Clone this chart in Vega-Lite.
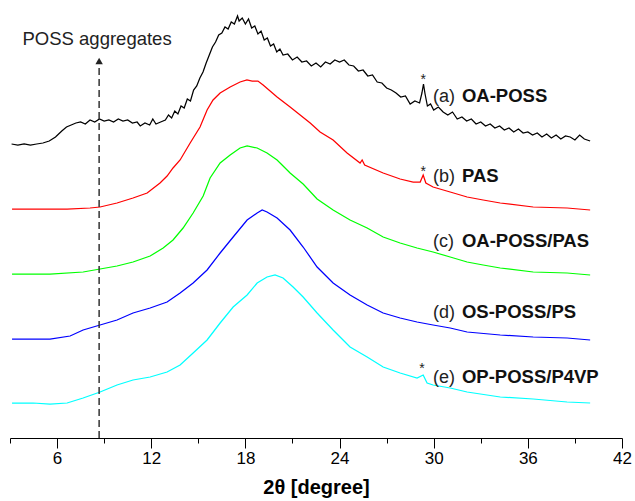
{
  "$schema": "https://vega.github.io/schema/vega-lite/v6.json",
  "width": 612,
  "height": 438,
  "autosize": {"type": "none"},
  "padding": {"left": 10, "top": 0, "right": 13, "bottom": 63},
  "background": "white",
  "config": {"font": "Liberation Sans", "view": {"stroke": null}},
  "datasets": {
    "curves": [
      {"s":"a","x":3.1,"y":294},{"s":"a","x":3.5,"y":293},{"s":"a","x":3.9,"y":294},{"s":"a","x":4.3,"y":293},{"s":"a","x":4.7,"y":294},{"s":"a","x":5.1,"y":295},{"s":"a","x":5.5,"y":297},{"s":"a","x":5.9,"y":301},{"s":"a","x":6.3,"y":307},{"s":"a","x":6.6,"y":311},{"s":"a","x":6.9,"y":313},{"s":"a","x":7.2,"y":315},{"s":"a","x":7.5,"y":316},{"s":"a","x":7.8,"y":314},{"s":"a","x":8.1,"y":318},{"s":"a","x":8.4,"y":316},{"s":"a","x":8.7,"y":319},{"s":"a","x":9.0,"y":317},{"s":"a","x":9.3,"y":318},{"s":"a","x":9.6,"y":316},{"s":"a","x":9.9,"y":319},{"s":"a","x":10.2,"y":317},{"s":"a","x":10.5,"y":318},{"s":"a","x":10.8,"y":315},{"s":"a","x":11.1,"y":316},{"s":"a","x":11.3,"y":312},{"s":"a","x":11.6,"y":315},{"s":"a","x":11.9,"y":313},{"s":"a","x":12.1,"y":319},{"s":"a","x":12.3,"y":314},{"s":"a","x":12.6,"y":316},{"s":"a","x":12.9,"y":318},{"s":"a","x":13.1,"y":323},{"s":"a","x":13.3,"y":320},{"s":"a","x":13.5,"y":327},{"s":"a","x":13.7,"y":324},{"s":"a","x":13.9,"y":332},{"s":"a","x":14.1,"y":330},{"s":"a","x":14.3,"y":339},{"s":"a","x":14.5,"y":337},{"s":"a","x":14.7,"y":348},{"s":"a","x":14.9,"y":352},{"s":"a","x":15.1,"y":360},{"s":"a","x":15.3,"y":366},{"s":"a","x":15.5,"y":375},{"s":"a","x":15.7,"y":383},{"s":"a","x":15.9,"y":391},{"s":"a","x":16.1,"y":396},{"s":"a","x":16.3,"y":403},{"s":"a","x":16.5,"y":405},{"s":"a","x":16.7,"y":411},{"s":"a","x":16.9,"y":409},{"s":"a","x":17.1,"y":416},{"s":"a","x":17.3,"y":414},{"s":"a","x":17.5,"y":422},{"s":"a","x":17.6,"y":417},{"s":"a","x":17.8,"y":420},{"s":"a","x":18.0,"y":414},{"s":"a","x":18.2,"y":419},{"s":"a","x":18.4,"y":410},{"s":"a","x":18.6,"y":412},{"s":"a","x":18.8,"y":404},{"s":"a","x":19.0,"y":407},{"s":"a","x":19.2,"y":398},{"s":"a","x":19.4,"y":400},{"s":"a","x":19.6,"y":392},{"s":"a","x":19.8,"y":394},{"s":"a","x":20.0,"y":386},{"s":"a","x":20.2,"y":389},{"s":"a","x":20.4,"y":383},{"s":"a","x":20.7,"y":384},{"s":"a","x":21.0,"y":378},{"s":"a","x":21.3,"y":381},{"s":"a","x":21.6,"y":376},{"s":"a","x":21.9,"y":377},{"s":"a","x":22.2,"y":372},{"s":"a","x":22.5,"y":375},{"s":"a","x":22.8,"y":371},{"s":"a","x":23.1,"y":376},{"s":"a","x":23.4,"y":374},{"s":"a","x":23.7,"y":378},{"s":"a","x":24.0,"y":376},{"s":"a","x":24.3,"y":378},{"s":"a","x":24.6,"y":373},{"s":"a","x":24.9,"y":372},{"s":"a","x":25.2,"y":367},{"s":"a","x":25.5,"y":368},{"s":"a","x":25.8,"y":362},{"s":"a","x":26.1,"y":363},{"s":"a","x":26.4,"y":356},{"s":"a","x":26.7,"y":355},{"s":"a","x":27.0,"y":350},{"s":"a","x":27.3,"y":348},{"s":"a","x":27.6,"y":345},{"s":"a","x":27.9,"y":341},{"s":"a","x":28.2,"y":342},{"s":"a","x":28.5,"y":334},{"s":"a","x":28.8,"y":337},{"s":"a","x":29.1,"y":335},{"s":"a","x":29.25,"y":345},{"s":"a","x":29.35,"y":354},{"s":"a","x":29.45,"y":344},{"s":"a","x":29.6,"y":332},{"s":"a","x":29.8,"y":334},{"s":"a","x":30.0,"y":328},{"s":"a","x":30.3,"y":331},{"s":"a","x":30.6,"y":326},{"s":"a","x":30.9,"y":323},{"s":"a","x":31.2,"y":326},{"s":"a","x":31.5,"y":319},{"s":"a","x":31.8,"y":321},{"s":"a","x":32.1,"y":317},{"s":"a","x":32.4,"y":319},{"s":"a","x":32.7,"y":314},{"s":"a","x":33.0,"y":316},{"s":"a","x":33.3,"y":312},{"s":"a","x":33.6,"y":314},{"s":"a","x":33.9,"y":310},{"s":"a","x":34.2,"y":312},{"s":"a","x":34.5,"y":308},{"s":"a","x":34.8,"y":310},{"s":"a","x":35.1,"y":306},{"s":"a","x":35.4,"y":309},{"s":"a","x":35.7,"y":305},{"s":"a","x":36.0,"y":306},{"s":"a","x":36.3,"y":303},{"s":"a","x":36.6,"y":305},{"s":"a","x":36.9,"y":301},{"s":"a","x":37.2,"y":304},{"s":"a","x":37.5,"y":300},{"s":"a","x":37.8,"y":303},{"s":"a","x":38.1,"y":299},{"s":"a","x":38.4,"y":302},{"s":"a","x":38.7,"y":301},{"s":"a","x":39.0,"y":298},{"s":"a","x":39.3,"y":303},{"s":"a","x":39.6,"y":299},{"s":"a","x":39.97,"y":297},

      {"s":"b","x":3.13,"y":229},{"s":"b","x":4.47,"y":229},{"s":"b","x":6.64,"y":229},{"s":"b","x":8.1,"y":230},{"s":"b","x":8.74,"y":231},{"s":"b","x":9.82,"y":235},{"s":"b","x":10.84,"y":240},{"s":"b","x":11.74,"y":245},{"s":"b","x":12.56,"y":255},{"s":"b","x":13.01,"y":262},{"s":"b","x":13.39,"y":270},{"s":"b","x":13.84,"y":278},{"s":"b","x":14.48,"y":295},{"s":"b","x":15.11,"y":311},{"s":"b","x":15.56,"y":328},{"s":"b","x":15.94,"y":338},{"s":"b","x":16.39,"y":345},{"s":"b","x":17.03,"y":351},{"s":"b","x":17.66,"y":356},{"s":"b","x":18.1,"y":358},{"s":"b","x":18.43,"y":357},{"s":"b","x":18.8,"y":357},{"s":"b","x":19.13,"y":353},{"s":"b","x":20.02,"y":341},{"s":"b","x":20.85,"y":331},{"s":"b","x":21.49,"y":323},{"s":"b","x":22.13,"y":315},{"s":"b","x":22.76,"y":306},{"s":"b","x":23.59,"y":298},{"s":"b","x":24.48,"y":285},{"s":"b","x":25.31,"y":275},{"s":"b","x":25.44,"y":278},{"s":"b","x":25.6,"y":273},{"s":"b","x":26.78,"y":265},{"s":"b","x":27.86,"y":259},{"s":"b","x":28.69,"y":256},{"s":"b","x":29.14,"y":256},{"s":"b","x":29.33,"y":263},{"s":"b","x":29.5,"y":255},{"s":"b","x":29.96,"y":251},{"s":"b","x":31.05,"y":246},{"s":"b","x":32.13,"y":241},{"s":"b","x":33.15,"y":238},{"s":"b","x":34.24,"y":235},{"s":"b","x":36.34,"y":231},{"s":"b","x":38.5,"y":230},{"s":"b","x":39.97,"y":228},

      {"s":"c","x":3.13,"y":164},{"s":"c","x":5.55,"y":164},{"s":"c","x":7.66,"y":166},{"s":"c","x":8.74,"y":169},{"s":"c","x":9.82,"y":172},{"s":"c","x":10.84,"y":176},{"s":"c","x":11.93,"y":182},{"s":"c","x":12.76,"y":190},{"s":"c","x":13.39,"y":198},{"s":"c","x":14.03,"y":210},{"s":"c","x":14.67,"y":225},{"s":"c","x":15.31,"y":242},{"s":"c","x":15.75,"y":260},{"s":"c","x":16.39,"y":275},{"s":"c","x":17.03,"y":283},{"s":"c","x":17.66,"y":290},{"s":"c","x":18.11,"y":292},{"s":"c","x":18.75,"y":290},{"s":"c","x":19.38,"y":285},{"s":"c","x":20.02,"y":278},{"s":"c","x":20.85,"y":265},{"s":"c","x":21.68,"y":254},{"s":"c","x":22.57,"y":239},{"s":"c","x":23.59,"y":228},{"s":"c","x":24.67,"y":218},{"s":"c","x":25.76,"y":210},{"s":"c","x":26.78,"y":201},{"s":"c","x":27.86,"y":195},{"s":"c","x":28.94,"y":190},{"s":"c","x":29.96,"y":186},{"s":"c","x":31.05,"y":181},{"s":"c","x":32.13,"y":176},{"s":"c","x":33.15,"y":173},{"s":"c","x":34.24,"y":170},{"s":"c","x":36.34,"y":166},{"s":"c","x":38.5,"y":165},{"s":"c","x":39.97,"y":163},

      {"s":"d","x":3.13,"y":99},{"s":"d","x":5.55,"y":99},{"s":"d","x":6.83,"y":102},{"s":"d","x":7.66,"y":108},{"s":"d","x":8.74,"y":113},{"s":"d","x":9.82,"y":118},{"s":"d","x":10.84,"y":125},{"s":"d","x":11.93,"y":130},{"s":"d","x":13.01,"y":136},{"s":"d","x":13.84,"y":145},{"s":"d","x":14.67,"y":155},{"s":"d","x":15.56,"y":168},{"s":"d","x":16.39,"y":185},{"s":"d","x":17.22,"y":201},{"s":"d","x":18.11,"y":218},{"s":"d","x":18.75,"y":225},{"s":"d","x":19.07,"y":228},{"s":"d","x":19.38,"y":226},{"s":"d","x":20.02,"y":220},{"s":"d","x":20.85,"y":208},{"s":"d","x":21.68,"y":191},{"s":"d","x":22.57,"y":171},{"s":"d","x":23.59,"y":155},{"s":"d","x":24.67,"y":143},{"s":"d","x":25.76,"y":133},{"s":"d","x":26.78,"y":125},{"s":"d","x":27.86,"y":120},{"s":"d","x":28.94,"y":116},{"s":"d","x":29.96,"y":113},{"s":"d","x":31.05,"y":110},{"s":"d","x":32.13,"y":106},{"s":"d","x":34.24,"y":103},{"s":"d","x":36.34,"y":101},{"s":"d","x":38.5,"y":100},{"s":"d","x":39.97,"y":98},

      {"s":"e","x":3.13,"y":35},{"s":"e","x":4.47,"y":35},{"s":"e","x":5.55,"y":34},{"s":"e","x":6.64,"y":35},{"s":"e","x":7.66,"y":40},{"s":"e","x":8.74,"y":46},{"s":"e","x":9.82,"y":53},{"s":"e","x":10.84,"y":58},{"s":"e","x":11.93,"y":61},{"s":"e","x":13.01,"y":66},{"s":"e","x":13.84,"y":73},{"s":"e","x":14.67,"y":85},{"s":"e","x":15.56,"y":98},{"s":"e","x":16.39,"y":115},{"s":"e","x":17.22,"y":131},{"s":"e","x":18.11,"y":143},{"s":"e","x":18.75,"y":155},{"s":"e","x":19.38,"y":161},{"s":"e","x":19.89,"y":163},{"s":"e","x":20.4,"y":160},{"s":"e","x":21.04,"y":151},{"s":"e","x":21.68,"y":141},{"s":"e","x":22.57,"y":125},{"s":"e","x":23.59,"y":108},{"s":"e","x":24.67,"y":91},{"s":"e","x":25.76,"y":81},{"s":"e","x":26.78,"y":71},{"s":"e","x":27.86,"y":65},{"s":"e","x":28.94,"y":60},{"s":"e","x":29.33,"y":63},{"s":"e","x":29.58,"y":55},{"s":"e","x":29.96,"y":53},{"s":"e","x":31.05,"y":50},{"s":"e","x":32.13,"y":46},{"s":"e","x":34.24,"y":41},{"s":"e","x":36.34,"y":39},{"s":"e","x":38.5,"y":36},{"s":"e","x":39.97,"y":35}
    ],
    "labels": [
      {"tag":"(a)","name":"OA-POSS","x":29.96,"xb":31.8,"y":336},
      {"tag":"(b)","name":"PAS","x":29.96,"xb":31.8,"y":256.5},
      {"tag":"(c)","name":"OA-POSS/PAS","x":29.96,"xb":31.8,"y":191},
      {"tag":"(d)","name":"OS-POSS/PS","x":29.96,"xb":31.8,"y":120},
      {"tag":"(e)","name":"OP-POSS/P4VP","x":29.96,"xb":31.8,"y":55}
    ],
    "stars": [
      {"x":29.33,"y":354.5},
      {"x":29.33,"y":262.5},
      {"x":29.25,"y":65}
    ],
    "arrow": [{"x":8.68,"y":0,"y2":373}],
    "head": [{"x":8.68,"y":377}],
    "note": [{"x":8.55,"y":393,"text":"POSS aggregates"}]
  },
  "layer": [
    {
      "data": {"name": "curves"},
      "mark": {"type": "line", "strokeWidth": 1.25, "interpolate": "linear"},
      "encoding": {
        "x": {
          "field": "x", "type": "quantitative",
          "scale": {"domain": [3, 42], "nice": false, "zero": false},
          "axis": {
            "title": "2θ [degree]",
            "values": [3,6,9,12,15,18,21,24,27,30,33,36,39,42],
            "labelExpr": "datum.value % 6 === 0 ? datum.label : ''",
            "tickSize": {"condition": {"test": "datum.value % 6 === 0", "value": 10}, "value": 5},
            "tickColor": "black",
            "domainColor": "black",
            "tickWidth": 1,
            "domainWidth": 1,
            "grid": false,
            "labelFontSize": 17,
            "labelColor": "black",
            "labelPadding": 2,
            "labelFlush": false,
            "labelOverlap": false,
            "titleFontSize": 20,
            "titleFontWeight": "bold",
            "titleColor": "black",
            "titlePadding": 11
          }
        },
        "y": {
          "field": "y", "type": "quantitative",
          "scale": {"domain": [0, 438], "nice": false, "zero": false},
          "axis": null
        },
        "color": {
          "field": "s", "type": "nominal",
          "scale": {"domain": ["a","b","c","d","e"], "range": ["#000000","#ff0000","#00ff00","#0000ff","#00ffff"]},
          "legend": null
        }
      }
    },
    {
      "data": {"name": "arrow"},
      "mark": {"type": "rule", "strokeDash": [7, 4], "strokeWidth": 1.5, "color": "#333333"},
      "encoding": {
        "x": {"field": "x", "type": "quantitative"},
        "y": {"field": "y", "type": "quantitative"},
        "y2": {"field": "y2"}
      }
    },
    {
      "data": {"name": "head"},
      "mark": {"type": "point", "shape": "triangle-up", "filled": true, "size": 55, "color": "#222222", "opacity": 1},
      "encoding": {
        "x": {"field": "x", "type": "quantitative"},
        "y": {"field": "y", "type": "quantitative"}
      }
    },
    {
      "data": {"name": "note"},
      "mark": {"type": "text", "fontSize": 18.5, "align": "center", "baseline": "alphabetic", "color": "#222222"},
      "encoding": {
        "x": {"field": "x", "type": "quantitative"},
        "y": {"field": "y", "type": "quantitative"},
        "text": {"field": "text"}
      }
    },
    {
      "data": {"name": "labels"},
      "mark": {"type": "text", "fontSize": 18, "align": "left", "baseline": "alphabetic", "color": "#222222"},
      "encoding": {
        "x": {"field": "x", "type": "quantitative"},
        "y": {"field": "y", "type": "quantitative"},
        "text": {"field": "tag"}
      }
    },
    {
      "data": {"name": "labels"},
      "mark": {"type": "text", "fontSize": 18.5, "fontWeight": "bold", "align": "left", "baseline": "alphabetic", "color": "#111111"},
      "encoding": {
        "x": {"field": "xb", "type": "quantitative"},
        "y": {"field": "y", "type": "quantitative"},
        "text": {"field": "name"}
      }
    },
    {
      "data": {"name": "stars"},
      "mark": {"type": "text", "fontSize": 14, "align": "center", "baseline": "alphabetic", "color": "#222222", "text": "*"},
      "encoding": {
        "x": {"field": "x", "type": "quantitative"},
        "y": {"field": "y", "type": "quantitative"}
      }
    }
  ]
}
